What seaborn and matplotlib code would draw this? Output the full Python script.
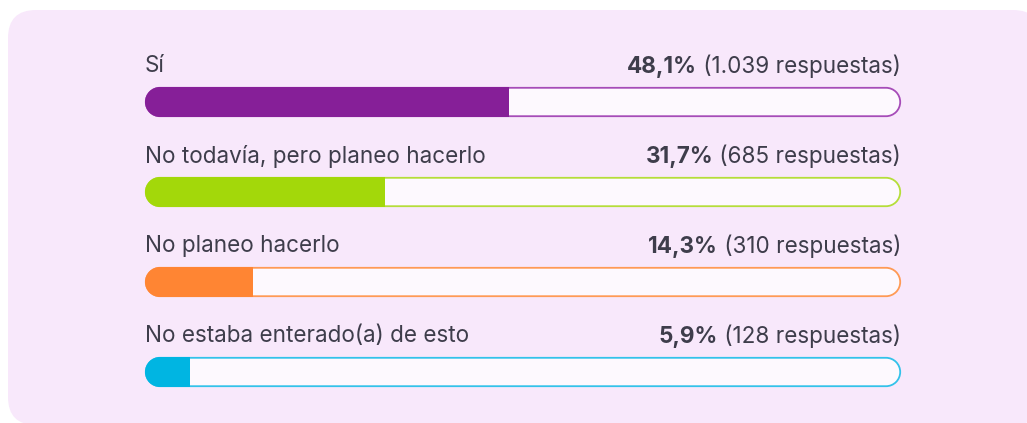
import matplotlib
matplotlib.use("Agg")
import numpy as np
import matplotlib.pyplot as plt
import seaborn as sns
from matplotlib.patches import FancyBboxPatch, PathPatch
from matplotlib.path import Path
from matplotlib.transforms import IdentityTransform, Affine2D

# data
labels = ["Sí", "No todavía, pero planeo hacerlo", "No planeo hacerlo", "No estaba enterado(a) de esto"]
pcts = [48.1, 31.7, 14.3, 5.9]
pct_text = ["48,1%", "31,7%", "14,3%", "5,9%"]
answers = ["1.039", "685", "310", "128"]
fills = ["#861F98", "#A3D80A", "#FF8533", "#00B5E2"]
edges = ["#A64CB8", "#B5DE3A", "#FF9A55", "#33C2EA"]

sns.set_theme(style="white")
plt.rcParams["font.family"] = ["Inter", "DejaVu Sans"]
txt_color = "#3E3D4B"
fs = 16.2

W, H = 1027, 423
fig = plt.figure(figsize=(W / 100, H / 100), dpi=100)
fig.patch.set_facecolor("white")
px = IdentityTransform()  # display pixels, origin bottom-left


def capsule(x0, y0, x1, y1):
    # pill shape with true circular ends, in pixel coords
    r = (y1 - y0) / 2
    yc = (y0 + y1) / 2
    left = Path.arc(90, 270).transformed(Affine2D().scale(r).translate(x0 + r, yc))
    right = Path.arc(-90, 90).transformed(Affine2D().scale(r).translate(x1 - r, yc))
    rcodes = right.codes.copy()
    rcodes[0] = Path.LINETO
    verts = np.concatenate([left.vertices, right.vertices, left.vertices[:1]])
    codes = np.concatenate([left.codes, rcodes, [Path.CLOSEPOLY]])
    return Path(verts, codes)


# background panel
panel = FancyBboxPatch((8, -2), W + 6, H - 8,
                       boxstyle="round,pad=0,rounding_size=28",
                       facecolor="#F8E8FB", edgecolor="none",
                       transform=px, figure=fig, zorder=-5)
fig.patches.append(panel)

# bars axis: x 0..100 -> px 145..901, rows 90px apart, first centre at px 102
ppx = (901 - 145) / 100
row = 90
ax = fig.add_axes([0, 0, 1, 1])
ax.patch.set_alpha(0)

sns.barplot(x=pcts, y=labels, hue=labels, palette=fills, legend=False,
            orient="h", width=30 / row, saturation=1, ax=ax, zorder=3)

ax.set_xlim(-145 / ppx, (W - 145) / ppx)
ax.set_ylim((H - 102) / row, -102 / row)
ax.axis("off")

h = 30 / row
for i, bar in enumerate(ax.patches):
    (x0, y0), (x1, y1) = ax.transData.transform([(0, i + h / 2), (100, i - h / 2)])
    track = PathPatch(capsule(x0 + 0.8, y0 + 0.8, x1 - 0.8, y1 - 0.8),
                      facecolor="#FDF9FE", edgecolor=edges[i], linewidth=1.3, zorder=2)
    ax.add_patch(track)
    track.set_transform(px)
    clip = PathPatch(capsule(x0, y0, x1, y1), facecolor="none", edgecolor="none")
    clip.set_transform(px)
    bar.set_clip_path(clip)
    bar.set_edgecolor("none")

    ty = i - 36 / row
    ax.text(0, ty, labels[i], ha="left", va="center", fontsize=fs, color=txt_color)
    reg = ax.text(100, ty, f" ({answers[i]} respuestas)", ha="right", va="center",
                  fontsize=fs, color=txt_color)
    ax.annotate(pct_text[i], xy=(0, 0), xycoords=reg, ha="right", va="bottom",
                fontsize=fs, fontweight="bold", color=txt_color)

fig.savefig("out.png", dpi=100, facecolor="white")
